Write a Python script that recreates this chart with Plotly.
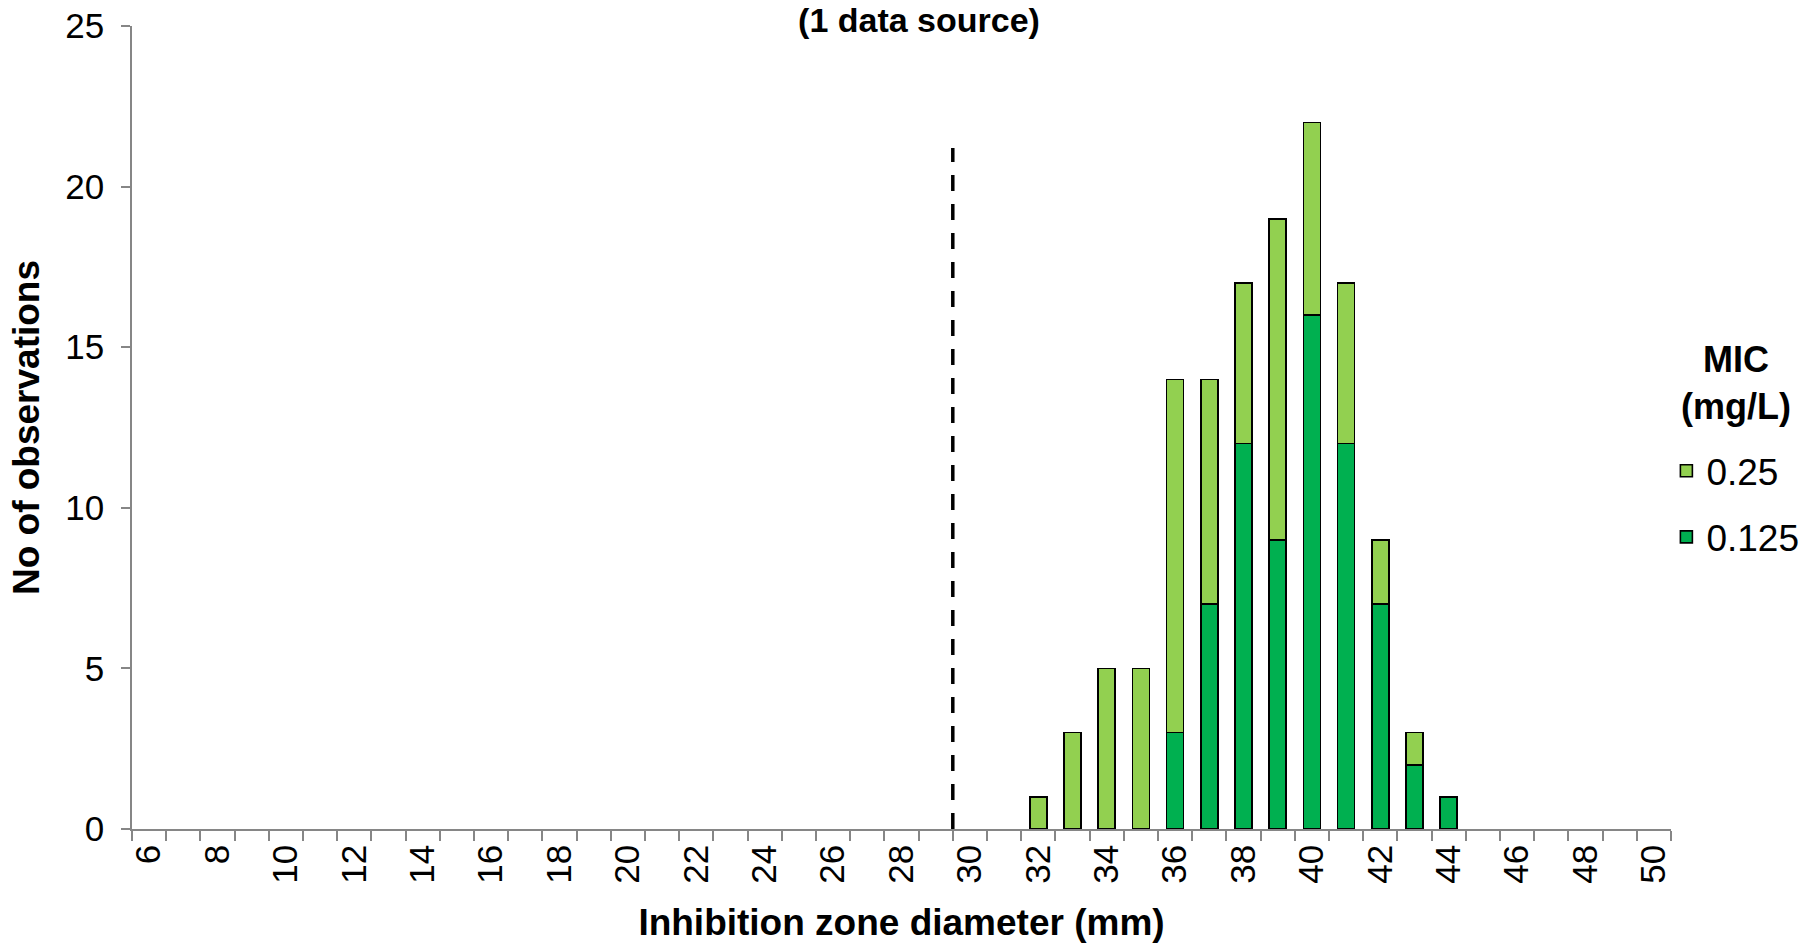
import plotly.graph_objects as go

# Inhibition zone diameters (mm), one category per integer
diameters = list(range(6, 51))

# Observation counts per diameter, split by MIC (mg/L)
mic_0125 = {36: 3, 37: 7, 38: 12, 39: 9, 40: 16, 41: 12, 42: 7, 43: 2, 44: 1}
mic_025 = {32: 1, 33: 3, 34: 5, 35: 5, 36: 11, 37: 7, 38: 5, 39: 10, 40: 6,
           41: 5, 42: 2, 43: 1}

# Empty diameters stay blank rather than drawing flat outlines
counts_0125 = [mic_0125.get(d) for d in diameters]
counts_025 = [mic_025.get(d) for d in diameters]

# Breakpoint marker between 29 and 30 mm
breakpoint_x = 29.5
breakpoint_top = 21.2

x_tick_vals = list(range(6, 51, 2))
y_tick_vals = [0, 5, 10, 15, 20, 25]

LIGHT = "#92D050"
DARK = "#00B050"
AXIS_GREY = "#868686"
FONT = "Arial, 'Liberation Sans', sans-serif"

fig = go.Figure()
fig.add_trace(go.Bar(
    x=diameters, y=counts_0125, name="0.125", legendgroup="b",
    legendrank=2,
    marker=dict(color=DARK, line=dict(color="black", width=1.6)),
    width=0.5,
))
fig.add_trace(go.Bar(
    x=diameters, y=counts_025, name="0.25", legendgroup="a",
    legendrank=1,
    marker=dict(color=LIGHT, line=dict(color="black", width=1.6)),
    width=0.5,
))

fig.add_shape(
    type="line", xref="x", yref="y",
    x0=breakpoint_x, x1=breakpoint_x, y0=0, y1=breakpoint_top,
    line=dict(color="black", width=3.5, dash="16px,13px"),
)

# Legend heading, centred over the legend entries
fig.add_annotation(
    text="<b>MIC<br>(mg/L)</b>", xref="paper", yref="paper",
    x=1.042, y=(829 - 383) / 803.5, xanchor="center", yanchor="middle",
    align="center", showarrow=False, font=dict(size=36),
)

fig.update_layout(
    width=1816, height=943,
    margin=dict(l=132, r=145, t=26, b=114, autoexpand=False),
    paper_bgcolor="white", plot_bgcolor="white",
    barmode="stack",
    font=dict(family=FONT, color="black", size=36),
    title=dict(
        text="<b>(1 data source)</b>",
        font=dict(size=34, family=FONT, color="black"),
        x=919 / 1816, xref="container", xanchor="center",
        y=1 - 20 / 943, yref="container", yanchor="middle",
    ),
    showlegend=True,
    legend=dict(
        traceorder="grouped",
        tracegroupgap=15,
        font=dict(size=37),
        x=0.997, xanchor="left", y=(829 - 440) / 803.5, yanchor="top",
        bgcolor="rgba(0,0,0,0)",
        itemwidth=30,
    ),
    xaxis=dict(
        range=[5.5, 50.5],
        tickmode="array", tickvals=x_tick_vals,
        ticks="", tickangle=-90,
        tickfont=dict(size=35),
        showline=True, linecolor=AXIS_GREY, linewidth=1.5,
        showgrid=False, zeroline=False,
        minor=dict(tick0=5.5, dtick=1, ticks="outside", ticklen=10,
                   tickcolor=AXIS_GREY, tickwidth=1.5, showgrid=False),
        title=dict(text="<b>Inhibition zone diameter (mm)</b>",
                   font=dict(size=37), standoff=26),
    ),
    yaxis=dict(
        range=[0, 25],
        tickmode="array", tickvals=y_tick_vals,
        ticks="outside", ticklen=9, tickcolor=AXIS_GREY, tickwidth=1.5,
        tickfont=dict(size=35), ticklabelstandoff=10,
        showline=True, linecolor=AXIS_GREY, linewidth=1.5,
        showgrid=False, zeroline=False,
        title=dict(text="<b>No of observations</b>", font=dict(size=37),
                   standoff=14),
    ),
)

fig.write_html("out.html")
